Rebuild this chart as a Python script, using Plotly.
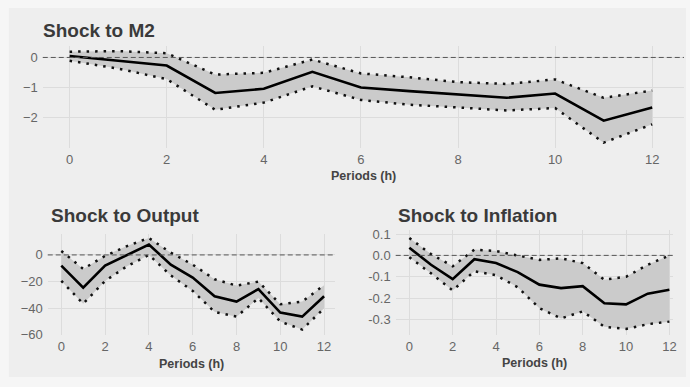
import plotly.graph_objects as go

periods = list(range(13))

# Impulse responses: point estimate with lower / upper confidence bounds
m2_mid = [0.05, -0.11, -0.27, -1.18, -1.04, -0.48, -1.00, -1.12, -1.23, -1.34, -1.20, -2.10, -1.66]
m2_up = [0.19, 0.21, 0.14, -0.57, -0.51, -0.07, -0.53, -0.66, -0.82, -0.88, -0.73, -1.34, -1.10]
m2_lo = [-0.11, -0.37, -0.72, -1.74, -1.50, -0.96, -1.41, -1.57, -1.66, -1.76, -1.68, -2.83, -2.22]

out_mid = [-8.0, -24.6, -8.0, 0.0, 7.8, -7.3, -17.0, -31.0, -35.0, -25.6, -43.2, -46.3, -31.0]
out_up = [3.0, -10.5, -0.7, 6.6, 12.7, 1.7, -7.3, -18.3, -23.0, -20.0, -37.0, -35.0, -22.7]
out_lo = [-19.5, -36.6, -19.5, -8.5, 0.0, -15.4, -27.0, -42.7, -46.3, -32.4, -50.0, -56.0, -40.0]

inf_mid = [0.036, -0.044, -0.111, -0.018, -0.036, -0.078, -0.137, -0.153, -0.144, -0.224, -0.229, -0.179, -0.161]
inf_up = [0.081, 0.006, -0.051, 0.027, 0.020, 0.000, -0.021, -0.014, -0.036, -0.114, -0.100, -0.044, 0.000]
inf_lo = [-0.009, -0.084, -0.164, -0.074, -0.093, -0.149, -0.247, -0.295, -0.262, -0.334, -0.344, -0.322, -0.310]

x_ticks = [0, 2, 4, 6, 8, 10, 12]
m2_yticks = [0, -1, -2]
out_yticks = [0, -20, -40, -60]
inf_yticks = [0.1, 0.0, -0.1, -0.2, -0.3]
inf_yticklabels = ["0.1", "0.0", "-0.1", "-0.2", "-0.3"]

titles = ["Shock to M2", "Shock to Output", "Shock to Inflation"]
x_title = "Periods (h)"

W, H = 690, 387
BAND = "#cbcbcb"
GRID = "#dcdcdc"
TICK = "#666666"
DOTS = dict(color="#111111", width=2.5, dash="2.5px,6px")


def px_x(p):
    return p / W


def px_y(p):
    return 1 - p / H


panels = [
    dict(mid=m2_mid, up=m2_up, lo=m2_lo, ax="", xd=(43, 688), yd=(43, 148),
         xr=[-0.553, 12.655], yr=[-3.0, 0.387], yt=m2_yticks, ytl=None,
         title=titles[0], tx=41, ty=27, xt_y=177),
    dict(mid=out_mid, up=out_up, lo=out_lo, ax="2", xd=(48, 337), yd=(237, 341),
         xr=[-0.62, 12.5], yr=[-60.3, 15.5], yt=out_yticks, ytl=None,
         title=titles[1], tx=49, ty=218, xt_y=371),
    dict(mid=inf_mid, up=inf_up, lo=inf_lo, ax="3", xd=(398, 677), yd=(233, 341),
         xr=[-0.63, 12.17], yr=[-0.374, 0.117], yt=inf_yticks, ytl=inf_yticklabels,
         title=titles[2], tx=398, ty=218, xt_y=369),
]

fig = go.Figure()
layout = {}
shapes = [
    dict(type="rect", xref="paper", yref="paper", x0=px_x(9), x1=1.0,
         y0=px_y(384), y1=px_y(4), fillcolor="#eeeeee", line=dict(width=0), layer="below"),
]
annotations = []

for p in panels:
    xa = "x" + p["ax"]
    ya = "y" + p["ax"]
    # confidence band
    fig.add_trace(go.Scatter(x=periods, y=p["lo"], mode="lines", line=dict(width=0),
                             hoverinfo="skip", showlegend=False, xaxis=xa, yaxis=ya))
    fig.add_trace(go.Scatter(x=periods, y=p["up"], mode="lines", line=dict(width=0),
                             fill="tonexty", fillcolor=BAND, hoverinfo="skip",
                             showlegend=False, xaxis=xa, yaxis=ya))
    # dotted bounds
    fig.add_trace(go.Scatter(x=periods, y=p["up"], mode="lines", line=DOTS,
                             showlegend=False, xaxis=xa, yaxis=ya))
    fig.add_trace(go.Scatter(x=periods, y=p["lo"], mode="lines", line=DOTS,
                             showlegend=False, xaxis=xa, yaxis=ya))
    # point estimate
    fig.add_trace(go.Scatter(x=periods, y=p["mid"], mode="lines",
                             line=dict(color="#000000", width=2.6),
                             showlegend=False, xaxis=xa, yaxis=ya))

    xkey = "xaxis" + p["ax"]
    ykey = "yaxis" + p["ax"]
    layout[xkey] = dict(
        domain=[px_x(p["xd"][0]), px_x(p["xd"][1])], range=p["xr"], anchor=ya,
        tickvals=x_ticks, showgrid=True, gridcolor=GRID, gridwidth=1,
        zeroline=False, showline=False, ticks="", ticklabelstandoff=2,
        tickfont=dict(family="Liberation Sans, Arial", size=13, color=TICK),
    )
    layout[ykey] = dict(
        domain=[px_y(p["yd"][1]), px_y(p["yd"][0])], range=p["yr"], anchor=xa,
        tickvals=p["yt"], ticktext=p["ytl"], showgrid=True, gridcolor=GRID, gridwidth=1,
        zeroline=False, showline=False, ticks="", ticklabelstandoff=4,
        tickfont=dict(family="Liberation Sans, Arial", size=13, color=TICK),
    )
    # zero reference line
    shapes.append(dict(type="line", xref=xa + " domain", yref=ya, x0=0, x1=1, y0=0, y1=0,
                       line=dict(color="#555555", width=1, dash="5px,3px"), layer="above"))
    # panel title
    annotations.append(dict(text="<b>" + p["title"] + "</b>", xref="paper", yref="paper",
                            x=px_x(p["tx"]), y=px_y(p["ty"]), xanchor="left", yanchor="middle",
                            showarrow=False,
                            font=dict(family="Liberation Sans, Arial", size=19, color="#3a3a3a")))
    # axis title
    cx = (p["xd"][0] + p["xd"][1]) / 2
    annotations.append(dict(text="<b>" + x_title + "</b>", xref="paper", yref="paper",
                            x=px_x(cx), y=px_y(p["xt_y"]), xanchor="center", yanchor="middle",
                            showarrow=False,
                            font=dict(family="Liberation Sans, Arial", size=12.5, color="#444444")))

fig.update_layout(
    width=W, height=H,
    margin=dict(l=0, r=0, t=0, b=0),
    paper_bgcolor="#f6f6f6",
    plot_bgcolor="rgba(0,0,0,0)",
    shapes=shapes,
    annotations=annotations,
    **layout,
)

fig.write_html("out.html")
